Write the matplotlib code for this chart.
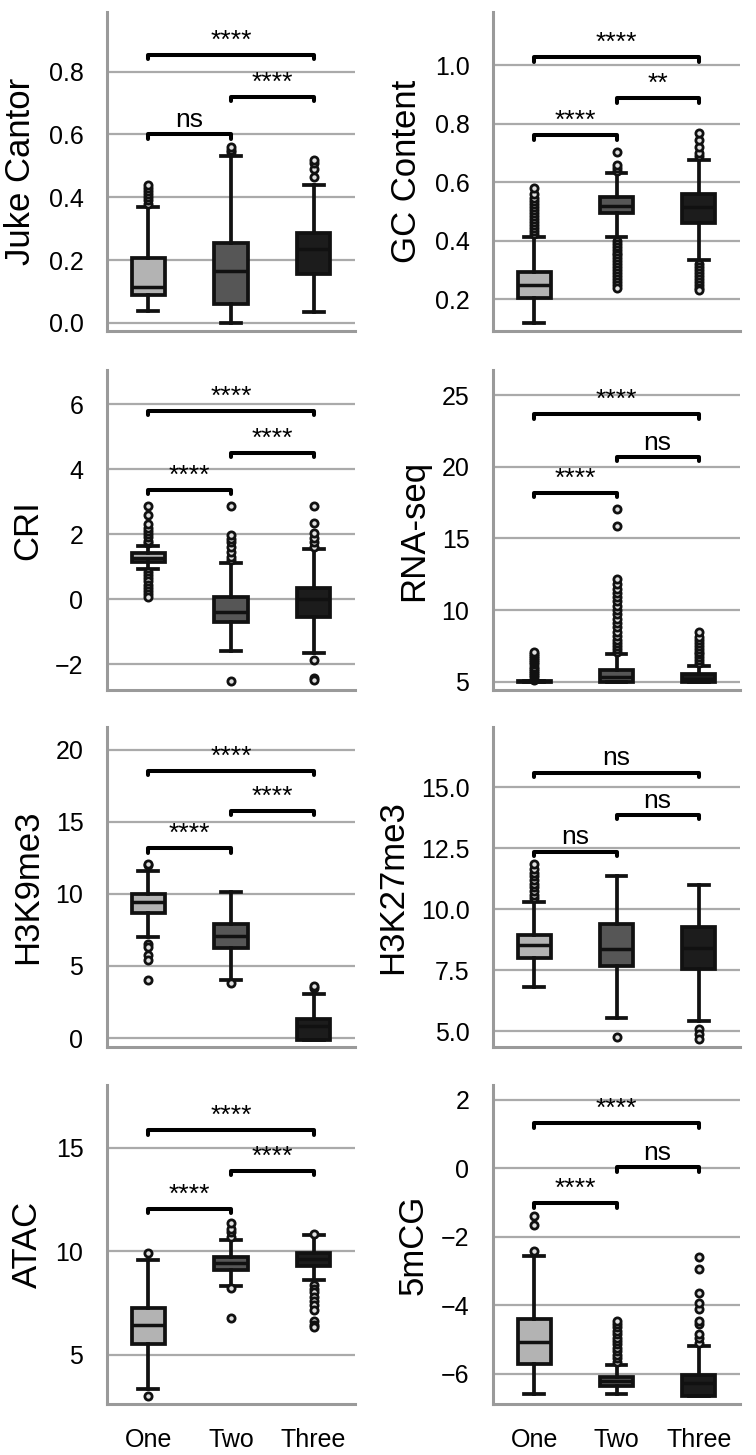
import matplotlib
matplotlib.use("Agg")
import matplotlib.pyplot as plt

plt.rcParams['font.family'] = ['Liberation Sans', 'DejaVu Sans']

groups = ['One', 'Two', 'Three']
pairs = [(0, 1), (1, 2), (0, 2)]

# box stats per group: whislo, q1, median, q3, whishi
juke_box = [[0.037, 0.090, 0.115, 0.207, 0.37],
            [0.0, 0.06, 0.165, 0.255, 0.532],
            [0.033, 0.155, 0.234, 0.285, 0.439]]
juke_fliers = [[0.38, 0.39, 0.40, 0.41, 0.42, 0.43, 0.44],
               [0.545, 0.55, 0.56],
               [0.465, 0.49, 0.508, 0.52]]
juke_sig = [0.60, 0.72, 0.853]
juke_txt = ['ns', '****', '****']

gc_box = [[0.121, 0.206, 0.249, 0.294, 0.414],
          [0.412, 0.494, 0.52, 0.55, 0.632],
          [0.334, 0.462, 0.514, 0.56, 0.676]]
gc_fliers = [[0.425, 0.435, 0.445, 0.455, 0.465, 0.475, 0.485, 0.495, 0.505,
              0.515, 0.525, 0.535, 0.545, 0.56, 0.579],
             [0.64, 0.65, 0.66, 0.704, 0.40, 0.39, 0.38, 0.37, 0.36, 0.35,
              0.34, 0.33, 0.32, 0.31, 0.30, 0.29, 0.28, 0.27, 0.26, 0.25, 0.238],
             [0.69, 0.70, 0.72, 0.745, 0.77, 0.32, 0.31, 0.30, 0.29, 0.28,
              0.27, 0.26, 0.25, 0.24, 0.232]]
gc_sig = [0.761, 0.888, 1.028]
gc_txt = ['****', '**', '****']

cri_box = [[0.92, 1.16, 1.28, 1.41, 1.64],
           [-1.59, -0.69, -0.40, 0.06, 1.11],
           [-1.66, -0.53, 0.0, 0.34, 1.55]]
cri_fliers = [[1.72, 1.8, 1.9, 2.0, 2.1, 2.2, 2.3, 2.6, 2.88,
               0.85, 0.75, 0.65, 0.55, 0.45, 0.35, 0.25, 0.15, 0.08],
              [1.2, 1.3, 1.45, 1.6, 1.75, 1.85, 1.98, 2.88, -2.51],
              [1.62, 1.75, 1.87, 2.03, 2.33, 2.88, -1.86, -2.41, -2.47]]
cri_sig = [3.36, 4.51, 5.80]
cri_txt = ['****', '****', '****']

rna_box = [[5.0, 5.0, 5.02, 5.04, 5.05],
           [5.0, 5.0, 5.3, 5.84, 6.93],
           [5.0, 5.0, 5.19, 5.54, 6.12]]
rna_fliers = [[5.15, 5.3, 5.45, 5.6, 5.75, 5.9, 6.05, 6.2, 6.35, 6.5, 6.65,
               6.8, 6.95, 7.05],
              [7.1, 7.3, 7.5, 7.7, 7.9, 8.2, 8.5, 8.8, 9.1, 9.4, 9.7, 10.0,
               10.3, 10.6, 10.9, 11.2, 11.5, 11.8, 12.18, 15.84, 17.07],
              [6.3, 6.5, 6.7, 6.9, 7.1, 7.3, 7.5, 7.7, 7.9, 8.1, 8.45]]
rna_sig = [18.17, 20.69, 23.67]
rna_txt = ['****', 'ns', '****']

k9_box = [[6.99, 8.70, 9.46, 9.97, 11.6],
          [4.04, 6.23, 7.08, 7.91, 10.1],
          [-0.1, -0.1, 0.81, 1.34, 3.07]]
k9_fliers = [[12.0, 12.06, 6.53, 6.34, 5.77, 5.42, 4.04],
             [3.81],
             [3.5, 3.58]]
k9_sig = [13.15, 15.76, 18.52]
k9_txt = ['****', '****', '****']

k27_box = [[6.80, 7.99, 8.55, 8.93, 10.31],
           [5.53, 7.68, 8.39, 9.38, 11.38],
           [5.41, 7.57, 8.40, 9.27, 11.01]]
k27_fliers = [[10.45, 10.6, 10.75, 10.9, 11.05, 11.2, 11.35, 11.5, 11.65, 11.87],
              [4.78],
              [5.1, 4.89, 4.69]]
k27_sig = [12.37, 13.87, 15.61]
k27_txt = ['ns', 'ns', 'ns']

atac_box = [[3.34, 5.52, 6.44, 7.24, 9.58],
            [8.31, 9.10, 9.44, 9.71, 10.52],
            [8.58, 9.27, 9.60, 9.92, 10.76]]
atac_fliers = [[9.90, 3.02],
               [10.7, 10.9, 11.05, 11.37, 8.2, 6.77],
               [10.84, 8.35, 8.15, 8.0, 7.8, 7.6, 7.4, 7.13, 6.6, 6.45, 6.32]]
atac_sig = [12.05, 13.87, 15.84]
atac_txt = ['****', '****', '****']

mcg_box = [[-6.60, -5.73, -5.08, -4.42, -2.57],
           [-6.60, -6.36, -6.21, -6.10, -5.76],
           [-6.65, -6.65, -6.28, -6.04, -5.19]]
mcg_fliers = [[-2.43, -1.65, -1.41],
              [-5.65, -5.55, -5.45, -5.35, -5.25, -5.15, -5.05, -4.95, -4.85,
               -4.75, -4.65, -4.55, -4.47],
              [-5.1, -4.95, -4.85, -4.55, -4.47, -4.1, -3.95, -3.64, -2.96, -2.60]]
mcg_sig = [-1.02, 0.03, 1.31]
mcg_txt = ['****', 'ns', '****']

panels = [
    ('Juke Cantor', juke_box, juke_fliers, juke_sig, juke_txt, (-0.026, 0.99), [0.0, 0.2, 0.4, 0.6, 0.8]),
    ('GC Content', gc_box, gc_fliers, gc_sig, gc_txt, (0.092, 1.182), [0.2, 0.4, 0.6, 0.8, 1.0]),
    ('CRI', cri_box, cri_fliers, cri_sig, cri_txt, (-2.79, 7.05), [-2, 0, 2, 4, 6]),
    ('RNA-seq', rna_box, rna_fliers, rna_sig, rna_txt, (4.42, 26.75), [5, 10, 15, 20, 25]),
    ('H3K9me3', k9_box, k9_fliers, k9_sig, k9_txt, (-0.62, 21.57), [0, 5, 10, 15, 20]),
    ('H3K27me3', k27_box, k27_fliers, k27_sig, k27_txt, (4.35, 17.48), [5.0, 7.5, 10.0, 12.5, 15.0]),
    ('ATAC', atac_box, atac_fliers, atac_sig, atac_txt, (2.61, 18.02), [5, 10, 15]),
    ('5mCG', mcg_box, mcg_fliers, mcg_sig, mcg_txt, (-6.89, 2.43), [-6, -4, -2, 0, 2]),
]

box_colors = ['#b3b3b3', '#565656', '#1c1c1c']

W, H = 756, 1455
fig = plt.figure(figsize=(W / 100, H / 100), dpi=100)

cols_px = [(107, 355), (493, 740)]
rows_px = [(12, 331), (370, 690), (727, 1047), (1085, 1404)]

for i, (label, boxes, fliers, sig, txt, ylim, ticks) in enumerate(panels):
    r, c = divmod(i, 2)
    x0, x1 = cols_px[c]
    t, b = rows_px[r]
    ax = fig.add_axes([x0 / W, 1 - b / H, (x1 - x0) / W, (b - t) / H])

    stats = []
    for g, s, f in zip(groups, boxes, fliers):
        stats.append(dict(label=g, whislo=s[0], q1=s[1], med=s[2], q3=s[3],
                          whishi=s[4], fliers=f))
    bp = ax.bxp(stats, positions=[0, 1, 2], widths=0.4, capwidths=0.24,
                patch_artist=True, showfliers=True,
                boxprops=dict(edgecolor='#111111', linewidth=2.7),
                whiskerprops=dict(color='#111111', linewidth=2.7),
                capprops=dict(color='#111111', linewidth=2.7),
                medianprops=dict(color='#111111', linewidth=2.5),
                flierprops=dict(marker='o', markersize=5.2, markeredgewidth=2.0,
                                markeredgecolor='#111111', markerfacecolor='#e0e0e0'))
    for patch, col in zip(bp['boxes'], box_colors):
        patch.set_facecolor(col)
    ax.set_zorder(1)

    ax.set_xlim(-0.5, 2.5)
    ax.set_ylim(*ylim)
    ax.set_yticks(ticks)
    ax.grid(axis='y', color='#aaaaaa', linewidth=1.6)
    ax.set_axisbelow(True)
    for sp in ['top', 'right']:
        ax.spines[sp].set_visible(False)
    for sp in ['left', 'bottom']:
        ax.spines[sp].set_color('#9a9a9a')
        ax.spines[sp].set_linewidth(2.2)
    ax.tick_params(axis='both', length=0, labelsize=18, pad=17)
    if r < 3:
        ax.set_xticks([0, 1, 2])
        ax.set_xticklabels([])
    ax.set_ylabel(label, fontsize=25, labelpad=8)

    drop = 0.014 * (ylim[1] - ylim[0])
    for (a, bb), y, s in zip(pairs, sig, txt):
        ax.plot([a, a, bb, bb], [y - drop, y, y, y - drop], color='black',
                linewidth=2.9, solid_capstyle='round', solid_joinstyle='round',
                clip_on=False, zorder=5)
        ax.annotate(s, xy=((a + bb) / 2, y), xytext=(0, 1.5),
                    textcoords='offset points', ha='center', va='bottom',
                    fontsize=19, zorder=6)

fig.savefig('out.png', dpi=100)
